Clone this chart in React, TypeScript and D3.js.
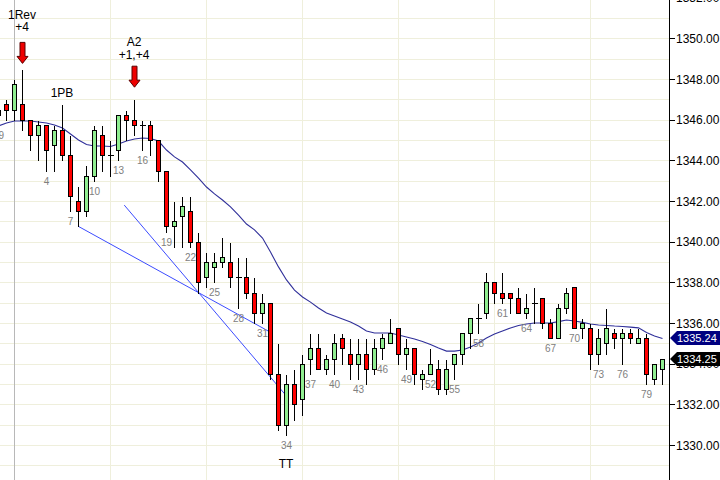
import React from 'react';
import * as d3 from 'd3';

// bar index of the first value below (-2..0 are the last bars of the prior session)
const firstBar = -2;

const opens = [
  1346.25, 1346.75, 1346.5,
  1346.75, 1346.0, 1345.25, 1345.75, 1344.75, 1345.5, 1344.25, 1342.0, 1341.5, 1343.25,
  1345.25, 1344.25, 1344.5, 1346.25, 1346.0, 1345.75, 1345.75, 1345.0, 1343.5, 1340.75,
  1341.25, 1341.5, 1340.0, 1338.25, 1338.75, 1339.0, 1339.0, 1338.25, 1338.25, 1337.5,
  1336.5, 1337.0, 1333.5, 1331.0, 1333.0, 1332.25, 1334.25, 1334.75, 1333.75, 1334.25,
  1335.25, 1334.5, 1334.0, 1334.5, 1333.75, 1334.75, 1335.0, 1335.75, 1334.5, 1334.75,
  1333.25, 1333.5, 1333.75, 1332.75, 1334.0, 1334.5, 1335.5, 1336.25, 1336.5, 1338.0,
  1337.5, 1337.5, 1337.25, 1336.5, 1337.0, 1337.25, 1336.0, 1335.25, 1336.75, 1337.75,
  1335.75, 1335.75, 1334.5, 1335.0, 1335.5, 1335.25, 1335.5, 1335.0, 1335.25, 1333.25,
  1333.75,
];
const highs = [
  1346.75, 1347.0, 1348.0,
  1348.5, 1346.0, 1346.0, 1345.75, 1345.75, 1346.75, 1345.25, 1342.75, 1343.75, 1345.75,
  1345.75, 1345.0, 1346.25, 1346.5, 1347.0, 1346.0, 1346.0, 1345.0, 1343.5, 1342.0,
  1342.25, 1342.25, 1340.5, 1339.5, 1339.5, 1340.25, 1340.0, 1339.25, 1339.25, 1338.25,
  1337.5, 1337.0, 1335.0, 1333.5, 1333.75, 1334.5, 1335.5, 1335.5, 1334.5, 1335.5,
  1335.5, 1335.25, 1335.25, 1335.25, 1335.25, 1335.5, 1336.25, 1335.75, 1335.25, 1334.75,
  1333.75, 1334.75, 1334.25, 1334.25, 1334.5, 1335.5, 1336.25, 1337.0, 1338.5, 1338.0,
  1338.5, 1337.5, 1337.75, 1337.5, 1337.75, 1337.25, 1336.25, 1337.0, 1337.75, 1337.75,
  1336.25, 1336.0, 1335.75, 1336.75, 1335.75, 1335.75, 1335.75, 1335.75, 1335.5, 1334.0,
  1334.25,
];
const lows = [
  1345.75, 1346.0, 1346.0,
  1345.5, 1344.5, 1344.0, 1343.5, 1343.5, 1344.0, 1341.5, 1340.75, 1341.25, 1343.0,
  1343.5, 1343.25, 1344.0, 1345.0, 1345.25, 1344.5, 1344.25, 1343.0, 1340.5, 1339.75,
  1339.75, 1339.75, 1337.5, 1337.75, 1338.0, 1338.75, 1337.75, 1336.75, 1337.25, 1336.0,
  1336.0, 1333.25, 1330.75, 1330.5, 1331.25, 1331.5, 1333.5, 1333.75, 1333.5, 1333.5,
  1334.0, 1333.25, 1333.25, 1333.0, 1333.5, 1334.25, 1335.0, 1334.0, 1333.75, 1333.0,
  1332.75, 1333.5, 1332.5, 1332.5, 1333.25, 1334.0, 1334.75, 1335.5, 1336.25, 1337.0,
  1337.0, 1336.5, 1336.5, 1336.25, 1336.0, 1335.75, 1335.25, 1335.25, 1336.5, 1335.75,
  1335.25, 1333.75, 1334.0, 1334.5, 1334.75, 1334.0, 1335.0, 1335.0, 1333.0, 1333.0,
  1333.0,
];
const closes = [
  1346.5, 1346.5, 1347.75,
  1346.0, 1345.25, 1345.75, 1344.5, 1345.5, 1344.25, 1342.25, 1341.5, 1343.25, 1345.5,
  1344.25, 1344.25, 1346.25, 1346.0, 1345.75, 1345.75, 1345.0, 1343.5, 1340.75, 1341.0,
  1341.75, 1340.0, 1338.0, 1339.0, 1339.0, 1339.25, 1338.25, 1338.25, 1337.5, 1336.5,
  1337.0, 1333.5, 1331.0, 1333.0, 1332.0, 1334.0, 1334.75, 1333.75, 1334.25, 1335.0,
  1334.75, 1334.0, 1334.5, 1333.75, 1334.75, 1335.25, 1335.5, 1334.5, 1334.75, 1333.5,
  1333.5, 1334.0, 1332.75, 1333.75, 1334.5, 1335.5, 1336.25, 1336.25, 1338.0, 1337.5,
  1337.25, 1337.25, 1336.5, 1336.75, 1337.0, 1336.0, 1335.25, 1336.75, 1337.5, 1335.75,
  1336.0, 1334.5, 1335.25, 1335.75, 1335.25, 1335.5, 1335.25, 1335.25, 1333.5, 1334.0,
  1334.25,
];
// moving average
const movingAvg = [
  1345.69, 1345.84, 1345.94,
  1345.94, 1345.94, 1345.89, 1345.84, 1345.74, 1345.59, 1345.30, 1345.00, 1344.78, 1344.71,
  1344.71, 1344.68, 1344.81, 1344.95, 1345.05, 1345.10, 1345.08, 1344.95, 1344.51, 1344.17,
  1343.92, 1343.53, 1343.13, 1342.69, 1342.35, 1342.05, 1341.71, 1341.31, 1340.87, 1340.58,
  1340.18, 1339.49, 1338.76, 1338.12, 1337.62, 1337.28, 1337.03, 1336.74, 1336.49, 1336.35,
  1336.20, 1336.05, 1335.85, 1335.61, 1335.51, 1335.51, 1335.51, 1335.41, 1335.31, 1335.21,
  1335.09, 1334.94, 1334.77, 1334.62, 1334.62, 1334.67, 1334.82, 1335.02, 1335.26, 1335.46,
  1335.61, 1335.76, 1335.88, 1335.95, 1336.00, 1336.00, 1336.00, 1336.07, 1336.15, 1336.10,
  1336.03, 1335.95, 1335.90, 1335.88, 1335.85, 1335.83, 1335.80, 1335.76, 1335.53, 1335.36,
  1335.24,
];

const labeledBars = [-2, ...d3.range(4, 82, 3)];
const hourLines = [12, 24, 36, 48, 60, 72];
const sessionStart = 0;
const priceTicks = d3.range(1330, 1354, 2);
const gridPrices = d3.range(1328, 1353, 1);

const trendLines = [
  { from: [8, 1340.75], to: [32.2, 1335.5] },
  { from: [13.72, 1341.8], to: [33.8, 1332.5] },
];

const arrows = [
  { bar: 1, tip: 1348.77 },
  { bar: 15, tip: 1347.6 },
];

const notes = [
  { bar: 1, price: 1350.34, lines: ['1Rev', '+4'] },
  { bar: 15, price: 1348.99, lines: ['A2', '+1,+4'] },
  { bar: 6, price: 1347.13, lines: ['1PB'] },
  { bar: 34, price: 1328.86, lines: ['TT'] },
];

const W = 720;
const H = 480;
const axisX = 669;
const font = "'Liberation Sans', Arial, sans-serif";
const green = '#90ee90';
const red = '#ff0000';
const grid = '#efefdc';

export default function App() {
  const x = d3.scaleLinear().domain([0, 81]).range([14.5, 662.5]);
  const y = d3.scaleLinear().domain([1330, 1350]).range([445, 38.4]);
  const py = (v: number) => Math.round(y(v)) + 0.5;

  const maLine = d3
    .line<number>()
    .x((_, k) => x(k + firstBar))
    .y((d) => y(d));

  const last = closes.length - 1;
  const tags = [
    { value: movingAvg[last], fill: '#000080' },
    { value: closes[last], fill: '#000000' },
  ];

  return (
    <svg
      width={W}
      height={H}
      style={{ position: 'absolute', left: 0, top: 0, background: '#fff' }}
      fontFamily={font}
    >
      <rect width={W} height={H} fill="#fff" />
      <defs>
        <clipPath id="plot">
          <rect x={0} y={0} width={axisX} height={H} />
        </clipPath>
      </defs>

      {/* grid */}
      <g shapeRendering="crispEdges">
        {gridPrices.map((p) => (
          <line key={p} x1={0} x2={axisX} y1={py(p)} y2={py(p)} stroke={grid} />
        ))}
        {hourLines.map((i) => (
          <line key={i} x1={x(i)} x2={x(i)} y1={0} y2={H} stroke={grid} />
        ))}
        <line x1={x(sessionStart)} x2={x(sessionStart)} y1={0} y2={H} stroke="#b8b8b8" />
      </g>

      <g clipPath="url(#plot)">
        {/* moving average */}
        <path d={maLine(movingAvg) || ''} fill="none" stroke="#30309a" strokeWidth={1.1} />

        {/* trend lines */}
        {trendLines.map((t, k) => (
          <line
            key={k}
            x1={x(t.from[0])}
            y1={y(t.from[1])}
            x2={x(t.to[0])}
            y2={y(t.to[1])}
            stroke="#3c4cff"
            strokeWidth={1}
          />
        ))}

        {/* candles */}
        <g shapeRendering="crispEdges">
          {opens.map((o, k) => {
            const i = k + firstBar;
            const cx = x(i);
            const c = closes[k];
            const top = py(Math.max(o, c));
            const bot = py(Math.min(o, c));
            return (
              <g key={i}>
                <line x1={cx} x2={cx} y1={py(highs[k])} y2={py(lows[k])} stroke="#000" />
                {o === c ? (
                  <line x1={cx - 3} x2={cx + 3} y1={top} y2={top} stroke="#000" />
                ) : (
                  <rect
                    x={cx - 2}
                    y={top}
                    width={4}
                    height={bot - top}
                    fill={c > o ? green : red}
                    stroke="#000"
                  />
                )}
              </g>
            );
          })}
        </g>

        {/* bar numbers */}
        {labeledBars.map((i) => (
          <text
            key={i}
            x={x(i)}
            y={y(lows[i - firstBar]) + 14}
            textAnchor="middle"
            fontSize={10}
            fill="#808080"
          >
            {i <= 0 ? 81 + i : i}
          </text>
        ))}
      </g>

      {/* arrows */}
      {arrows.map((a) => {
        const cx = x(a.bar);
        const tip = y(a.tip);
        const pts = [
          [cx - 2.5, tip - 21],
          [cx + 2.5, tip - 21],
          [cx + 2.5, tip - 7],
          [cx + 5.5, tip - 7],
          [cx, tip],
          [cx - 5.5, tip - 7],
          [cx - 2.5, tip - 7],
        ];
        return (
          <polygon
            key={a.bar}
            points={pts.map((p) => p.join(',')).join(' ')}
            fill="#ee0000"
            stroke="#5a0000"
            strokeWidth={1}
          />
        );
      })}

      {/* annotations */}
      {notes.map((n) => (
        <text key={n.bar} x={x(n.bar) - 0.5} textAnchor="middle" fontSize={12} fill="#000">
          {n.lines.map((l, k) => (
            <tspan key={k} x={x(n.bar) - 0.5} y={y(n.price) - (n.lines.length - 1 - k) * 12.5}>
              {l}
            </tspan>
          ))}
        </text>
      ))}

      {/* price axis */}
      <g shapeRendering="crispEdges">
        <line x1={axisX + 0.5} x2={axisX + 0.5} y1={0} y2={H} stroke="#000" />
        {priceTicks.map((p) => (
          <line key={p} x1={axisX} x2={axisX + 6} y1={py(p)} y2={py(p)} stroke="#000" />
        ))}
      </g>
      {priceTicks.map((p) => (
        <text key={p} x={axisX + 7} y={y(p) + 4.5} fontSize={12} fill="#000">
          {d3.format('.2f')(p)}
        </text>
      ))}

      {/* last value tags */}
      {tags.map((t) => {
        const cy = Math.round(y(t.value));
        return (
          <g key={t.fill}>
            <polygon
              points={`${axisX + 1},${cy} ${axisX + 8},${cy - 7} ${W},${cy - 7} ${W},${cy + 7} ${axisX + 8},${cy + 7}`}
              fill={t.fill}
            />
            <text x={axisX + 8} y={cy + 4} fontSize={11} fill="#fff">
              {d3.format('.2f')(t.value)}
            </text>
          </g>
        );
      })}
    </svg>
  );
}
